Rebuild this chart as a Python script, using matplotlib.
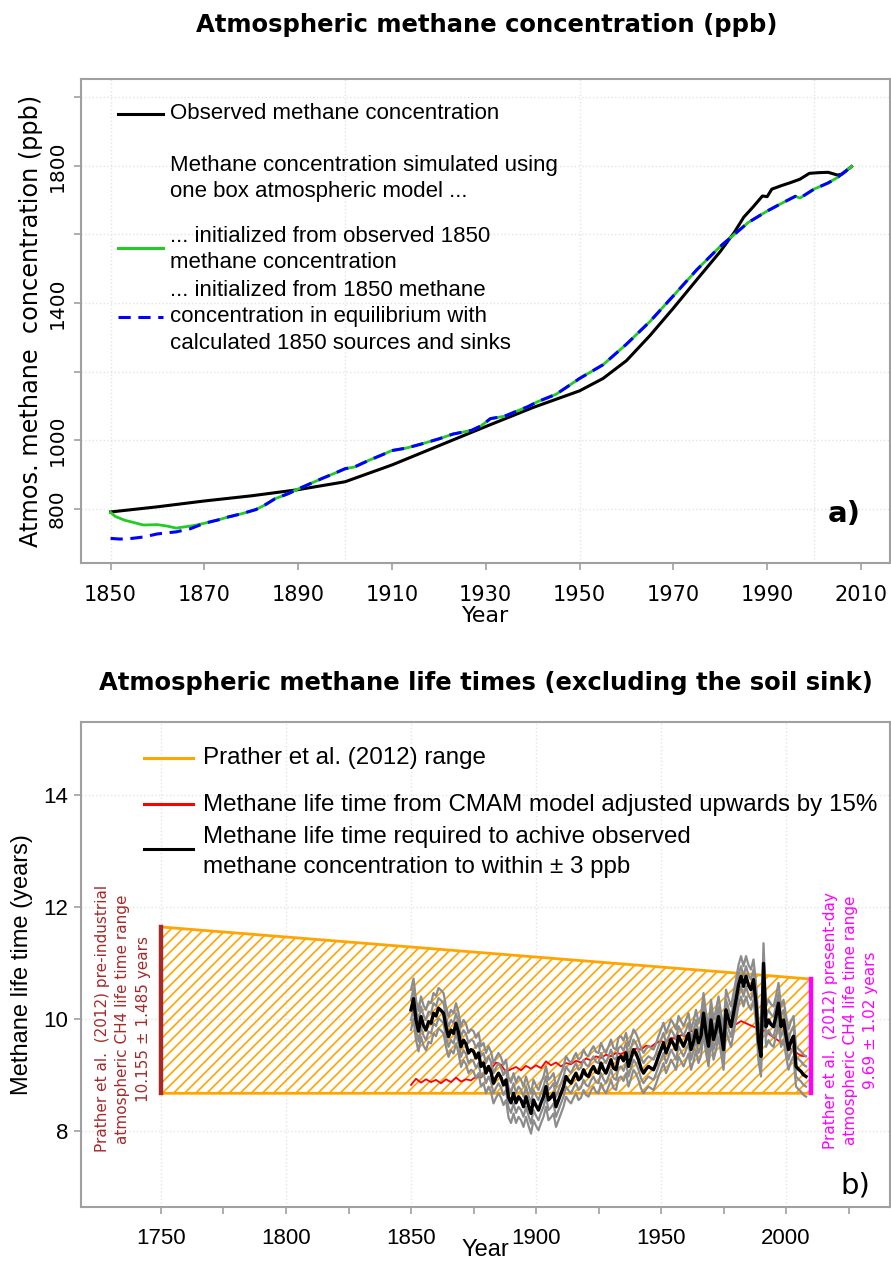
#!/usr/bin/env python3
import numpy as np
import matplotlib
matplotlib.use('Agg')
import matplotlib.pyplot as plt

plt.rcParams['font.family'] = ['DejaVu Sans']
plt.rcParams['hatch.linewidth'] = 1.2

# ---------------- panel a) methane concentration ----------------
obs_years = [1850, 1860, 1870, 1880, 1890, 1900, 1910, 1920, 1930, 1940, 1950, 1955,
             1960, 1965, 1970, 1975, 1980, 1983, 1985, 1987, 1989, 1990, 1991, 1993,
             1995, 1997, 1999, 2001, 2003, 2005, 2006, 2008]
obs_ppb = [791, 806, 823, 838, 856, 879, 928, 984, 1040, 1095, 1144, 1180,
           1232, 1305, 1385, 1468, 1550, 1606, 1650, 1680, 1712, 1710, 1732, 1742,
           1751, 1761, 1778, 1780, 1781, 1773, 1776, 1798]

sim_years = [1850, 1851, 1853, 1855, 1857, 1860, 1862, 1864, 1866, 1868, 1870, 1873,
             1875, 1878, 1881, 1883, 1885, 1888, 1890, 1893, 1895, 1898, 1900, 1902,
             1905, 1908, 1910, 1913, 1916, 1920, 1923, 1927, 1929, 1931, 1934, 1937,
             1939, 1941, 1945, 1950, 1955, 1960, 1965, 1970, 1975, 1980, 1983, 1986,
             1990, 1993, 1996, 1997, 2000, 2003, 2005, 2008]
sim_obs_init = [790, 778, 767, 760, 753, 754, 750, 744, 748, 752, 758, 768,
                776, 786, 798, 812, 829, 845, 858, 876, 888, 905, 917, 922,
                941, 958, 970, 977, 988, 1004, 1018, 1029, 1042, 1063, 1070, 1087,
                1098, 1112, 1134, 1180, 1220, 1280, 1346, 1421, 1497, 1565, 1600, 1635,
                1668, 1690, 1711, 1706, 1732, 1750, 1766, 1798]
# equilibrium-initialised run differs only before 1870
eq_early_years = [1850, 1852, 1854, 1857, 1860, 1864, 1867]
eq_early_ppb = [714, 712, 713, 718, 727, 733, 742]

legend_a = [
    (0.9277, 'Observed methane concentration'),
    (0.8208, 'Methane concentration simulated using'),
    (0.7664, 'one box atmospheric model ...'),
    (0.6734, '... initialized from observed 1850'),
    (0.6200, 'methane concentration'),
    (0.5630, '... initialized from 1850 methane'),
    (0.5080, 'concentration in equilibrium with'),
    (0.4526, 'calculated 1850 sources and sinks'),
]

# ---------------- panel b) methane life time ----------------
life_years = list(range(1850, 2009))
life_req = [
    10.16, 10.36, 9.98, 9.78, 10.04, 9.88, 9.80, 9.95, 9.92, 10.10,
    10.05, 10.19, 10.15, 10.10, 9.86, 9.68, 9.80, 9.74, 9.92, 9.75,
    9.50, 9.62, 9.55, 9.39, 9.45, 9.42, 9.30, 9.39, 9.15, 9.21,
    9.03, 9.15, 9.05, 8.85, 8.95, 9.03, 8.95, 8.82, 8.91, 8.60,
    8.50, 8.67, 8.50, 8.61, 8.55, 8.43, 8.61, 8.45, 8.31, 8.55,
    8.45, 8.37, 8.50, 8.61, 8.79, 8.55, 8.60, 8.67, 8.43, 8.55,
    8.67, 8.79, 8.97, 8.90, 8.85, 8.95, 9.03, 8.91, 8.95, 9.09,
    9.00, 8.97, 9.08, 9.15, 9.05, 9.03, 9.21, 9.10, 9.03, 9.15,
    9.27, 9.12, 9.09, 9.30, 9.33, 9.25, 9.39, 9.15, 9.30, 9.45,
    9.38, 9.27, 9.12, 9.03, 9.10, 9.15, 9.12, 9.09, 9.20, 9.33,
    9.45, 9.57, 9.39, 9.50, 9.63, 9.55, 9.45, 9.69, 9.60, 9.51,
    9.62, 9.74, 9.45, 9.60, 9.80, 9.57, 9.70, 10.10, 9.75, 9.51,
    9.98, 9.63, 9.80, 10.04, 9.75, 9.45, 10.16, 10.00, 9.86, 10.10,
    10.34, 10.60, 10.76, 10.58, 10.76, 10.60, 10.52, 10.70, 10.28, 9.60,
    9.33, 10.99, 9.86, 9.98, 9.90, 9.86, 10.05, 10.28, 9.86, 9.98,
    9.70, 9.45, 9.60, 9.69, 9.15, 9.10, 9.06, 9.00, 8.97]
# grey runs (+/- 3 ppb) sit about this far from the central run
grey_offsets = [-0.36, -0.18, 0.18, 0.36]

cmam_years = list(range(1850, 2009, 2))
cmam_life = [
    8.82, 8.93, 8.86, 8.92, 8.87, 8.91, 8.85, 8.92, 8.87, 8.95,
    8.88, 8.92, 8.90, 8.97, 8.95, 9.05, 9.10, 9.22, 9.18, 9.05,
    9.10, 9.14, 9.08, 9.16, 9.11, 9.17, 9.12, 9.24, 9.17, 9.22,
    9.15, 9.21, 9.19, 9.25, 9.22, 9.29, 9.26, 9.33, 9.30, 9.36,
    9.33, 9.39, 9.37, 9.42, 9.40, 9.47, 9.45, 9.52, 9.50, 9.57,
    9.60, 9.58, 9.66, 9.64, 9.71, 9.69, 9.78, 9.76, 9.84, 9.82,
    9.88, 9.86, 9.90, 9.87, 9.93, 9.90, 9.96, 9.92, 9.88, 9.84,
    9.80, 9.78, 9.70, 9.64, 9.58, 9.52, 9.46, 9.40, 9.34, 9.33]

# Prather et al. (2012) ranges
pre_year, pre_mean, pre_err = 1750, 10.155, 1.485
now_year, now_mean, now_err = 2010, 9.69, 1.02

legend_b = [
    (0.9258, 'Prather et al. (2012) range'),
    (0.8289, 'Methane life time from CMAM model adjusted upwards by 15%'),
    (0.7635, 'Methane life time required to achive observed'),
    (0.7016, 'methane concentration to within \u00b1 3 ppb'),
]

spine_col = '#a0a0a0'
grid_col = '#e4e4e4'
narrow = ['Liberation Sans', 'DejaVu Sans']


def style_axes(ax):
    for s in ax.spines.values():
        s.set_color(spine_col)
        s.set_linewidth(1.5)
    ax.tick_params(color=spine_col, length=5, width=1.2)
    ax.set_axisbelow(True)


fig = plt.figure(figsize=(8.91, 12.64), dpi=100)

# ---- panel a
ax1 = fig.add_axes([0.0909, 0.5548, 0.9080, 0.3827])
style_axes(ax1)
ax1.set_xlim(1843.7, 2016.2)
ax1.set_ylim(643, 2053)
ax1.set_xticks(range(1850, 2011, 20))
ax1.set_yticks(range(800, 2001, 200))
ax1.set_yticklabels(['800', '1000', '', '1400', '', '1800', ''])
ax1.tick_params(axis='x', labelsize=15, pad=11)
ax1.tick_params(axis='y', labelsize=14.5, pad=5)
for lab in ax1.get_yticklabels():
    lab.set_rotation(90)
    lab.set_va('center')
for gx in [1850, 1900, 1950, 2000]:
    ax1.axvline(gx, color=grid_col, lw=1, ls=':', zorder=0)
for gy in range(800, 2001, 200):
    ax1.axhline(gy, color=grid_col, lw=1, ls=':', zorder=0)

ax1.plot(obs_years, obs_ppb, color='black', lw=2.2, zorder=3)
ax1.plot(sim_years, sim_obs_init, color='#22cc22', lw=2.0, zorder=4)
eq_years = eq_early_years + [y for y in sim_years if y >= 1870]
eq_ppb = eq_early_ppb + [v for y, v in zip(sim_years, sim_obs_init) if y >= 1870]
ax1.plot(eq_years, eq_ppb, color='#0000ff', lw=2.2, ls=(0, (4, 2.5)), zorder=5)

handles_a = [(0.9277, 'black', '-'), (0.6498, '#22cc22', '-'), (0.5090, '#0000ff', (0, (4, 2.5)))]
for hy, hc, hs in handles_a:
    ax1.plot([0.0457, 0.1014], [hy, hy], color=hc, lw=2.2, ls=hs, transform=ax1.transAxes)
for ty, txt in legend_a:
    ax1.text(0.1106, ty, txt, transform=ax1.transAxes, va='center', ha='left',
             fontsize=16, family=narrow)
ax1.text(0.944, 0.10, 'a)', transform=ax1.transAxes, ha='center', va='center',
         fontsize=21, fontweight='bold')
ax1.set_ylabel('Atmos. methane  concentration (ppb)', fontsize=17.3, labelpad=4)
ax1.set_xlabel('Year', fontsize=16, labelpad=1)
fig.text(0.5466, 0.980, 'Atmospheric methane concentration (ppb)', ha='center', va='center',
         fontsize=17.5, fontweight='bold')

# ---- panel b
ax2 = fig.add_axes([0.0909, 0.0451, 0.9080, 0.3837])
style_axes(ax2)
ax2.set_xlim(1718, 2041.6)
ax2.set_ylim(6.64, 15.30)
ax2.set_xticks(range(1750, 2001, 50))
ax2.set_xticks(range(1775, 2026, 50), minor=True)
ax2.tick_params(axis='x', which='minor', color=spine_col, length=5, width=1.2)
ax2.set_yticks([8, 10, 12, 14])
ax2.tick_params(axis='x', labelsize=16, pad=10)
ax2.tick_params(axis='y', labelsize=16, pad=4)
for lab in ax2.get_xticklabels() + ax2.get_yticklabels():
    lab.set_family(narrow)
for gx in range(1750, 2001, 50):
    ax2.axvline(gx, color=grid_col, lw=1, ls=':', zorder=0)
for gy in [8, 10, 12, 14]:
    ax2.axhline(gy, color=grid_col, lw=1, ls=':', zorder=0)

poly_x = [pre_year, now_year, now_year, pre_year]
poly_y = [pre_mean + pre_err, now_mean + now_err, now_mean - now_err, pre_mean - pre_err]
ax2.fill(poly_x, poly_y, facecolor='none', edgecolor='#ffa500', hatch='///', lw=2, zorder=1)
ax2.plot([pre_year, pre_year], [pre_mean - pre_err, pre_mean + pre_err], color='#a52a2a',
         lw=3.2, zorder=6)
ax2.plot([now_year, now_year], [now_mean - now_err, now_mean + now_err], color='#ff00ff',
         lw=3.2, zorder=6)

ax2.plot(cmam_years, cmam_life, color='#ff0000', lw=1.3, zorder=2)
life_arr = np.array(life_req)
for off in grey_offsets:
    ax2.plot(life_years, life_arr + off, color='#8c8c8c', lw=1.6, zorder=3)
ax2.plot(life_years, life_req, color='black', lw=2.4, zorder=4)

handles_b = [(0.9264, '#ffa500'), (0.8303, '#ff0000'), (0.7381, 'black')]
for hy, hc in handles_b:
    ax2.plot([0.0784, 0.139], [hy, hy], color=hc, lw=2.2, transform=ax2.transAxes)
for ty, txt in legend_b:
    ax2.text(0.1514, ty, txt, transform=ax2.transAxes, va='center', ha='left',
             fontsize=17.4, family=narrow)

ax2.text(1734.8, 10.0, 'Prather et al.  (2012) pre-industrial\natmospheric CH4 life time range\n'
         '10.155 \u00b1 1.485 years', rotation=90, ha='center', va='center',
         multialignment='center', color='#a52a2a', fontsize=11, linespacing=1.45)
ax2.text(2025.8, 9.97, 'Prather et al.  (2012) present-day\natmospheric CH4 life time range\n'
         '9.69 \u00b1 1.02 years', rotation=90, ha='center', va='center',
         multialignment='center', color='#ff00ff', fontsize=11, linespacing=1.45)
ax2.text(0.957, 0.045, 'b)', transform=ax2.transAxes, ha='center', va='center', fontsize=21)
ax2.set_ylabel('Methane life time (years)', fontsize=17, family=narrow, labelpad=8)
ax2.set_xlabel('Year', fontsize=17, family=narrow, labelpad=-7)
fig.text(0.545, 0.4597, 'Atmospheric methane life times (excluding the soil sink)',
         ha='center', va='center', fontsize=17.5, fontweight='bold')

fig.savefig('out.png', dpi=100)
